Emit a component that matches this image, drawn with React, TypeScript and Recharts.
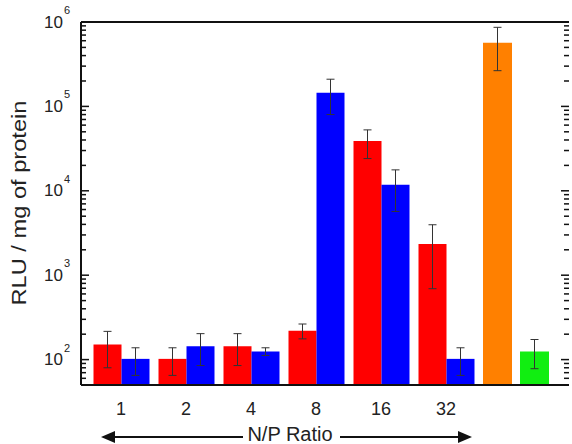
import React from 'react';
import { ComposedChart, Bar, XAxis, YAxis, ErrorBar, Cell, ReferenceLine } from 'recharts';

document.body.style.margin = '0';

// N/P ratio groups
const ratios = ['1', '2', '4', '8', '16', '32'];

const redMean = [151, 102, 144, 220, 39000, 2340];
const redLow = [80, 65, 85, 176, 24100, 692];
const redHigh = [216, 138, 203, 264, 52700, 3960];

const blueMean = [102, 144, 125, 145600, 11800, 102];
const blueLow = [65, 85, 112, 80000, 5690, 65];
const blueHigh = [138, 203, 138, 210000, 17700, 138];

// controls on the right
const controlNames = ['control A', 'control B'];
const controlMean = [569000, 125];
const controlLow = [265000, 78];
const controlHigh = [865000, 173];
const controlColors = ['#ff8000', '#11ee11'];

const yDomain = [50, 1000000];
const decades = [100, 1000, 10000, 100000, 1000000];

const W = 572;
const H = 444;
const FONT = '"Liberation Sans", Arial, Helvetica, sans-serif';
const margin = { top: 22, right: 3, bottom: 29, left: 0 };
const plotRight = W - margin.right;

const logTicks: number[] = [];
[10, 100, 1000, 10000, 100000].forEach((d) => {
  for (let k = 1; k <= 9; k++) {
    const v = d * k;
    if (v >= yDomain[0] && v <= yDomain[1]) logTicks.push(v);
  }
});
logTicks.push(1000000);

const groupData = ratios.map((r, i) => ({
  ratio: r,
  red: redMean[i],
  redErr: [redMean[i] - redLow[i], redHigh[i] - redMean[i]],
  blue: blueMean[i],
  blueErr: [blueMean[i] - blueLow[i], blueHigh[i] - blueMean[i]],
}));

const controlData = controlNames.map((n, i) => ({
  name: n,
  value: controlMean[i],
  err: [controlMean[i] - controlLow[i], controlHigh[i] - controlMean[i]],
}));

// log axis tick: inward marks on both sides, label 10^n on the decades
const LogTick = (props: any) => {
  const { x, y, payload } = props;
  const v = payload.value;
  const major = decades.includes(v);
  const len = major ? 8 : 5;
  const exp = Math.round(Math.log10(v));
  const px = Number(x);
  const py = Number(y);
  return (
    <g>
      <rect x={px} y={py - 0.75} width={len} height={1.5} fill="#111" />
      <rect x={plotRight - len} y={py - 0.75} width={len} height={1.5} fill="#111" />
      {major && (
        <g fontFamily={FONT} fill="#222">
          <text x={px - 18} y={py} textAnchor="end" dominantBaseline="central" fontSize={17}>
            10
          </text>
          <text x={px - 17} y={py - 12} textAnchor="start" dominantBaseline="central" fontSize={11}>
            {exp}
          </text>
        </g>
      )}
    </g>
  );
};

const App = () => {
  return (
    <div style={{ position: 'relative', width: W, height: H, background: '#fff' }}>
      <div style={{ position: 'absolute', left: 0, top: 0 }}>
        <ComposedChart
          width={W}
          height={H}
          data={controlData}
          margin={{ top: 22, right: 19, bottom: 59, left: 479 }}
        >
          <XAxis dataKey="name" hide />
          <YAxis scale="log" domain={yDomain} allowDataOverflow hide />
          <Bar dataKey="value" barSize={29} isAnimationActive={false}>
            {controlData.map((_, i) => (
              <Cell key={`c-${i}`} fill={controlColors[i]} />
            ))}
            <ErrorBar dataKey="err" width={4} stroke="#333" strokeWidth={1} direction="y" />
          </Bar>
        </ComposedChart>
      </div>
      <div style={{ position: 'absolute', left: 0, top: 0 }}>
        <ComposedChart width={W} height={H} data={groupData} margin={margin} barGap={0}>
          <XAxis
            dataKey="ratio"
            padding={{ left: 7.5, right: 90.5 }}
            axisLine={{ stroke: '#111', strokeWidth: 2 }}
            tickLine={false}
            tickSize={0}
            tickMargin={17}
            height={30}
            tick={{ fontSize: 18, fill: '#222', fontFamily: FONT }}
          />
          <YAxis
            yAxisId="left"
            scale="log"
            domain={yDomain}
            allowDataOverflow
            ticks={logTicks}
            interval={0}
            width={81}
            tickSize={0}
            tickMargin={0}
            tickLine={false}
            axisLine={{ stroke: '#111', strokeWidth: 2 }}
            tick={<LogTick />}
          />
          <YAxis
            yAxisId="right"
            orientation="right"
            scale="log"
            domain={yDomain}
            allowDataOverflow
            width={0}
            tick={false}
            tickLine={false}
            axisLine={{ stroke: '#111', strokeWidth: 2 }}
          />
          <ReferenceLine yAxisId="left" y={1000000} stroke="#111" strokeWidth={2} />
          <Bar yAxisId="left" dataKey="red" fill="#ff0000" barSize={28} isAnimationActive={false}>
            <ErrorBar dataKey="redErr" width={4} stroke="#333" strokeWidth={1} direction="y" />
          </Bar>
          <Bar yAxisId="left" dataKey="blue" fill="#0000ff" barSize={28} isAnimationActive={false}>
            <ErrorBar dataKey="blueErr" width={4} stroke="#333" strokeWidth={1} direction="y" />
          </Bar>
        </ComposedChart>
      </div>
      <svg
        width={W}
        height={H}
        style={{ position: 'absolute', left: 0, top: 0, pointerEvents: 'none' }}
        fontFamily={FONT}
      >
        <text
          transform="translate(26,203) rotate(-90)"
          textAnchor="middle"
          fontSize={20}
          fill="#222"
          textLength={205}
          lengthAdjust="spacingAndGlyphs"
        >
          RLU / mg of protein
        </text>
        <line x1={110} x2={243} y1={437} y2={437} stroke="#111" strokeWidth={2} />
        <line x1={340} x2={462} y1={437} y2={437} stroke="#111" strokeWidth={2} />
        <polygon points="101,437 115,431 115,443" fill="#111" />
        <polygon points="472,437 458,431 458,443" fill="#111" />
        <text x={290} y={441} textAnchor="middle" fontSize={20} fill="#222">
          N/P Ratio
        </text>
      </svg>
    </div>
  );
};

export default App;
